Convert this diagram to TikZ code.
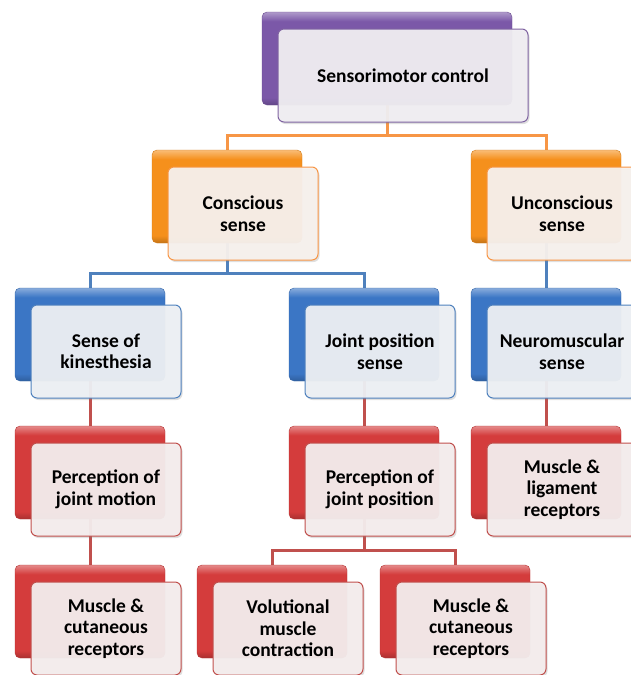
\documentclass[tikz,border=0pt]{standalone}
\usepackage{fontspec}
\setmainfont{Carlito}
\usepackage{tikz}
\usetikzlibrary{positioning,calc,shadows,backgrounds}
\definecolor{cTop}{HTML}{7B58A8}
\definecolor{cMid}{HTML}{F5901C}
\definecolor{cSense}{HTML}{3B76C5}
\definecolor{cRecep}{HTML}{D43C3C}
\definecolor{lTop}{HTML}{8064A2}
\definecolor{lMid}{HTML}{F79646}
\definecolor{lSense}{HTML}{4F81BD}
\definecolor{lRecep}{HTML}{C0504D}
% mostly flat tiles with a light top rim and a dark bottom rim
\pgfdeclareverticalshading{shTop}{100bp}{color(0bp)=(cTop!80!black); color(25bp)=(cTop!80!black);
  color(29bp)=(cTop); color(70bp)=(cTop); color(75bp)=(cTop!60!white); color(100bp)=(cTop!60!white)}
\pgfdeclareverticalshading{shMid}{100bp}{color(0bp)=(cMid!80!black); color(25bp)=(cMid!80!black);
  color(29bp)=(cMid); color(70bp)=(cMid); color(75bp)=(cMid!60!white); color(100bp)=(cMid!60!white)}
\pgfdeclareverticalshading{shSense}{100bp}{color(0bp)=(cSense!80!black); color(25bp)=(cSense!80!black);
  color(29bp)=(cSense); color(70bp)=(cSense); color(75bp)=(cSense!60!white); color(100bp)=(cSense!60!white)}
\pgfdeclareverticalshading{shRecep}{100bp}{color(0bp)=(cRecep!80!black); color(25bp)=(cRecep!80!black);
  color(29bp)=(cRecep); color(70bp)=(cRecep); color(75bp)=(cRecep!60!white); color(100bp)=(cRecep!60!white)}
\tikzset{
  back/.style={rounded corners=5pt, minimum width=150pt, minimum height=93pt,
               draw=c#1!85!black, line width=0.4pt, shading=sh#1},
  front/.style={rounded corners=6pt, minimum width=150pt, minimum height=93pt,
                draw=l#1, line width=1pt, fill=l#1!6!white!97!black, fill opacity=0.95,
                text opacity=1, text=black, align=center,
                font=\fontsize{19.5}{21.5}\selectfont\bfseries,
                drop shadow={opacity=0.25, shadow xshift=1.5pt, shadow yshift=-2pt}},
  link/.style={draw=#1, line width=3pt},
}

\begin{document}
\begin{tikzpicture}[x=1pt, y=-1pt]
  \useasboundingbox (0,0) rectangle (631,675);
  \clip (0,0) rectangle (631,675);

  % level 1
  \node[back=Top, minimum width=250pt] (smc) at (387,58.5) {};
  \node[front=Top, minimum width=250pt] (smcF) at ($(smc.center)+(16,17)$) {Sensorimotor control};

  % level 2
  \node[back=Mid] (con) at (227,196.5) {};
  \node[front=Mid] (conF) at ($(con.center)+(16,17)$) {Conscious\\sense};
  \node[back=Mid] (unc) at (546,196.5) {};
  \node[front=Mid] (uncF) at ($(unc.center)+(16,17)$) {Unconscious\\sense};

  % level 3
  \node[back=Sense] (kin) at (90,334.5) {};
  \node[front=Sense] (kinF) at ($(kin.center)+(16,17)$) {Sense of\\kinesthesia};
  \node[back=Sense] (jps) at (364,334.5) {};
  \node[front=Sense] (jpsF) at ($(jps.center)+(16,17)$) {Joint position\\sense};
  \node[back=Sense] (nms) at (546,334.5) {};
  \node[front=Sense] (nmsF) at ($(nms.center)+(16,17)$) {Neuromuscular\\sense};

  % level 4
  \node[back=Recep] (pjm) at (90,472.5) {};
  \node[front=Recep] (pjmF) at ($(pjm.center)+(16,17)$) {Perception of\\joint motion};
  \node[back=Recep] (pjp) at (364,472.5) {};
  \node[front=Recep] (pjpF) at ($(pjp.center)+(16,17)$) {Perception of\\joint position};
  \node[back=Recep] (mlr) at (546,472.5) {};
  \node[front=Recep] (mlrF) at ($(mlr.center)+(16,17)$) {Muscle \&\\ligament\\receptors};

  % level 5
  \node[back=Recep] (mcr) at (90,611.5) {};
  \node[front=Recep] (mcrF) at ($(mcr.center)+(16,17)$) {Muscle \&\\cutaneous\\receptors};
  \node[back=Recep] (vmc) at (272,611.5) {};
  \node[front=Recep] (vmcF) at ($(vmc.center)+(16,17)$) {Volutional\\muscle\\contraction};
  \node[back=Recep] (mcr2) at (455,611.5) {};
  \node[front=Recep] (mcr2F) at ($(mcr2.center)+(16,17)$) {Muscle \&\\cutaneous\\receptors};

  \begin{scope}[on background layer]
    \draw[link=lMid] (smc.south) -- ++(0,30) coordinate (smcJ) -| (con.north);
    \draw[link=lMid] (smcJ) -| (unc.north);
    \draw[link=lSense] (con.south) -- ++(0,30) coordinate (conJ) -| (kin.north);
    \draw[link=lSense] (conJ) -| (jps.north);
    \draw[link=lSense] (unc.south) -- (nms.north);
    \draw[link=lRecep] (kin.south) -- (pjm.north);
    \draw[link=lRecep] (jps.south) -- (pjp.north);
    \draw[link=lRecep] (nms.south) -- (mlr.north);
    \draw[link=lRecep] (pjm.south) -- (mcr.north);
    \draw[link=lRecep] (pjp.south) -- ++(0,31) coordinate (pjpJ) -| (vmc.north);
    \draw[link=lRecep] (pjpJ) -| (mcr2.north);
  \end{scope}
\end{tikzpicture}
\end{document}
